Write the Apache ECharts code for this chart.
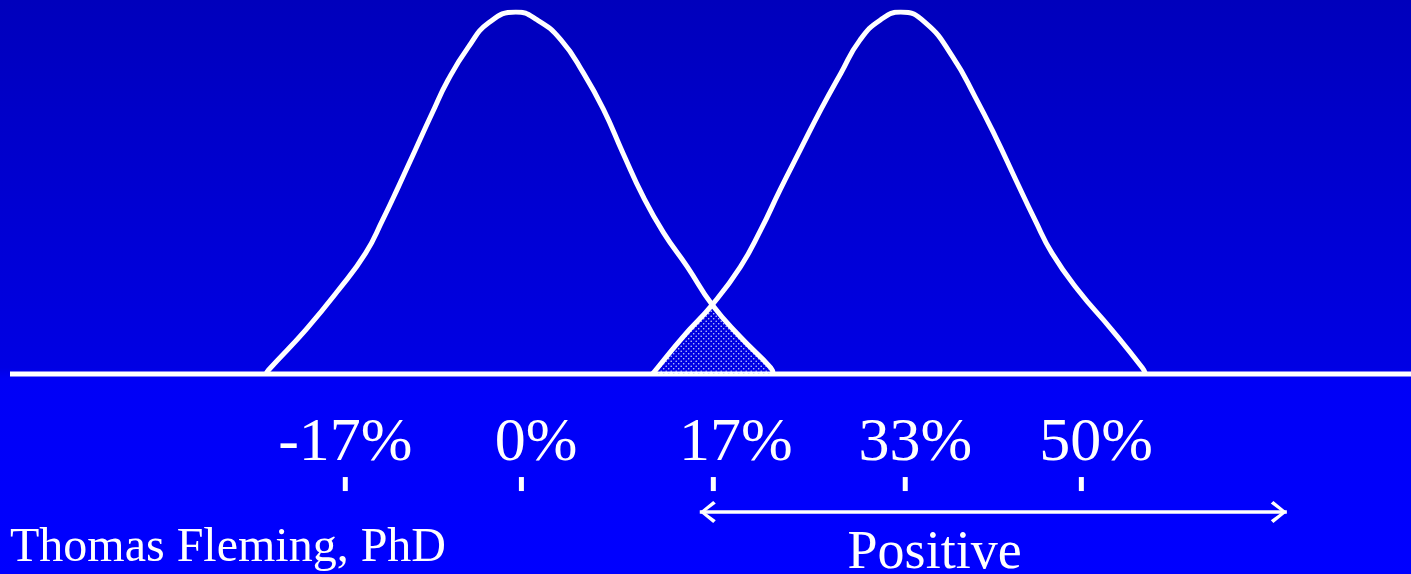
<!DOCTYPE html>
<html>
<head>
<meta charset="utf-8">
<script src="https://cdn.jsdelivr.net/npm/echarts@6/dist/echarts.min.js"></script>
<style>
html,body{margin:0;padding:0;width:1411px;height:574px;overflow:hidden;
background:linear-gradient(to bottom,#0000bc 0%,#0000e4 64%,#0000f6 66%,#0000ff 100%);}
#chart{width:1411px;height:574px;}
</style>
</head>
<body>
<div id="chart"></div>
<script>
// x in percent, y in relative density (peak = 100)
const leftCurve = [[-22.6,0],[-22.4,1.1],[-19.1,12.2],[-16.2,23.2],[-13.8,33.4],[-12.3,42.5],[-10.9,51.7],[-9.4,61.9],[-7.9,72.1],[-6.5,81.2],[-4.7,90.3],[-2.9,97.0],[-0.5,100],[1.4,97.8],[3.5,92.3],[5.5,83.1],[7.3,72.9],[9.0,61.0],[10.8,48.9],[12.6,39.0],[14.7,29.6],[16.9,19.1],[19.4,10.2],[22.1,1.7],[22.3,0]];
const rightCurve = [[11.6,0],[11.9,1.1],[14.3,10.2],[16.9,19.1],[19.4,29.6],[21.2,39.8],[22.9,50.8],[24.7,61.9],[26.5,72.9],[28.3,83.1],[30.0,92.3],[31.8,97.8],[33.6,100],[35.8,97.0],[38.2,87.6],[40.2,76.5],[42.0,65.5],[43.8,53.6],[45.5,42.5],[47.0,33.4],[49.3,23.2],[52.3,12.2],[55.0,1.7],[55.3,0]];
const overlap = [[11.6,0],[14.3,10.2],[16.9,19.1],[19.4,10.2],[22.3,0]];
const baseline = [[-45.3,0],[78.8,0]];
const tickLabels = ['-17%','0%','17%','33%','50%'];
const tickLabelX = [-15.6,1.3,19.0,34.9,50.9];
const tickMarkX = [-15.6,0,17.0,34.0,49.6];
const arrowX = [15.8,67.8];
const arrowLabel = 'Positive';
const arrowLabelX = 36.6;
const author = 'Thomas Fleming, PhD';

const SERIF = "'Liberation Serif','Times New Roman',serif";
const LABEL_Y = -19.2, TICK_Y = -30.4, ARROW_Y = -38.1, POS_Y = -49.8, AUTH_Y = -48.3;

// dotted pattern for the overlap area
const tile = document.createElement('canvas');
tile.width = 5; tile.height = 5;
const tc = tile.getContext('2d');
tc.fillStyle = 'rgba(210,220,255,0.95)';
tc.beginPath(); tc.arc(1.2,1.2,0.8,0,Math.PI*2); tc.fill();
tc.beginPath(); tc.arc(3.7,3.7,0.8,0,Math.PI*2); tc.fill();

const chevL = 'path://M0,11 L13,0.5 L15.5,3 L4.5,11 L15.5,19 L13,21.5 Z';
const chevR = 'path://M16,11 L3,0.5 L0.5,3 L11.5,11 L0.5,19 L3,21.5 Z';

const textLabel = (size, pos) => ({show: true, position: pos, distance: 0,
  formatter: p => p.name, color: '#ffffff', opacity: 1,
  textBorderWidth: 0, textBorderColor: 'transparent',
  fontFamily: SERIF, fontSize: size});

const chart = echarts.init(document.getElementById('chart'));
chart.setOption({
  backgroundColor: 'transparent',
  animation: false,
  grid: {left: 10, right: 0, top: 12, bottom: 0},
  xAxis: {type: 'value', min: -45.3, max: 78.8, show: false},
  yAxis: {type: 'value', min: -55.25, max: 100, show: false},
  series: [
    {type: 'line', data: baseline, symbol: 'none', z: 1,
     lineStyle: {color: '#ffffff', width: 5}},
    {type: 'line', data: overlap, symbol: 'none', z: 2,
     lineStyle: {width: 0},
     areaStyle: {color: {image: tile, repeat: 'repeat'}, opacity: 1, origin: 'auto'}},
    {type: 'line', data: leftCurve, symbol: 'none', smooth: 0.5, z: 3,
     lineStyle: {color: '#ffffff', width: 5}},
    {type: 'line', data: rightCurve, symbol: 'none', smooth: 0.5, z: 3,
     lineStyle: {color: '#ffffff', width: 5}},
    {type: 'scatter', symbolSize: 0, z: 4, itemStyle: {opacity: 1},
     data: tickLabels.map((t,i)=>({value:[tickLabelX[i], LABEL_Y], name: t})),
     label: textLabel(62, 'inside')},
    {type: 'scatter', symbol: 'rect', symbolSize: [5,14], z: 4,
     itemStyle: {color: '#ffffff', opacity: 1},
     data: tickMarkX.map(x => [x, TICK_Y])},
    {type: 'line', z: 4, showSymbol: true,
     lineStyle: {color: '#ffffff', width: 3.5},
     itemStyle: {color: '#ffffff', opacity: 1},
     data: [
       {value: [arrowX[0], ARROW_Y], symbol: chevL, symbolSize: [16,22], symbolOffset: [8,0]},
       {value: [arrowX[1], ARROW_Y], symbol: chevR, symbolSize: [16,22], symbolOffset: [-8,0]}
     ]},
    {type: 'scatter', symbolSize: 0, z: 4, itemStyle: {opacity: 1},
     data: [{value: [arrowLabelX, POS_Y], name: arrowLabel}],
     label: textLabel(54, 'inside')},
    {type: 'scatter', symbolSize: 0, z: 4, clip: false, itemStyle: {opacity: 1},
     data: [{value: [-45.3, AUTH_Y], name: author}],
     label: textLabel(48, 'right')}
  ]
});
</script>
</body>
</html>
